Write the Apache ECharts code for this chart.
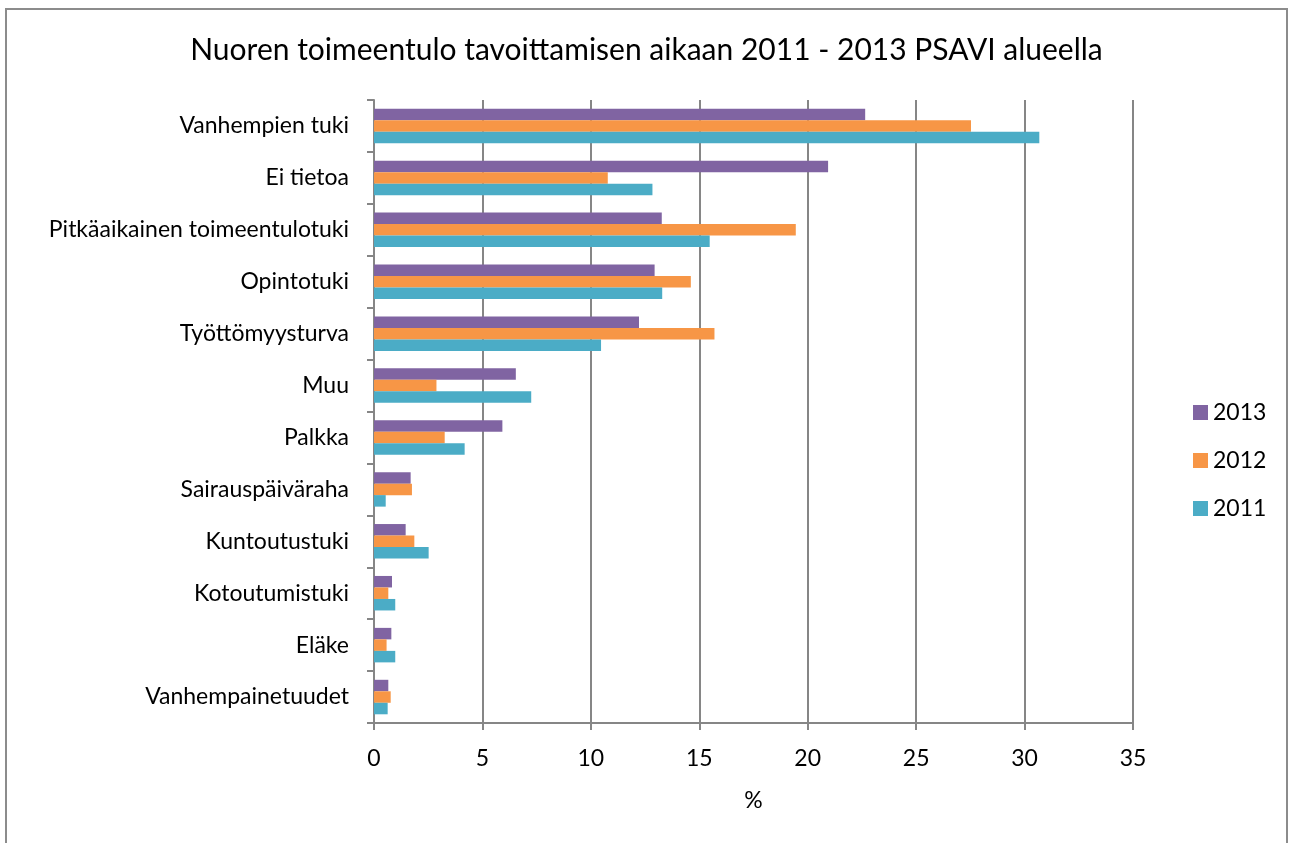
<!DOCTYPE html>
<html>
<head>
<meta charset="utf-8">
<script src="https://cdn.jsdelivr.net/npm/echarts@6/dist/echarts.min.js"></script>
<style>
html,body{margin:0;padding:0;background:#fff;}
#frame{position:absolute;left:5px;top:8px;width:1283px;height:845px;border:2px solid #8c8c8c;box-sizing:border-box;}
#chart{position:absolute;left:0;top:0;width:1293px;height:843px;}
</style>
</head>
<body>
<div id="frame"></div>
<div id="chart"></div>
<script>
const title = "Nuoren toimeentulo tavoittamisen aikaan 2011 - 2013 PSAVI alueella";
const categories = ["Vanhempien tuki","Ei tietoa","Pitkäaikainen toimeentulotuki","Opintotuki","Työttömyysturva","Muu","Palkka","Sairauspäiväraha","Kuntoutustuki","Kotoutumistuki","Eläke","Vanhempainetuudet"];
const seriesNames = ["2013","2012","2011"];
const v2013 = [22.65,20.94,13.27,12.94,12.22,6.54,5.92,1.69,1.46,0.83,0.80,0.66];
const v2012 = [27.53,10.78,19.45,14.61,15.70,2.88,3.26,1.75,1.86,0.66,0.58,0.77];
const v2011 = [30.68,12.84,15.48,13.29,10.47,7.25,4.18,0.54,2.52,0.98,0.98,0.63];
const xTicks = {min:0,max:35,interval:5};
const axisTitle = "%";
const colors = ["#8064A2","#F79646","#4BACC6"];

const font = "Lato, 'Liberation Sans', sans-serif";
const chart = echarts.init(document.getElementById('chart'));
const data = [v2013, v2012, v2011];
chart.setOption({
  animation:false,
  title:{text:title,left:'center',top:30,textStyle:{fontFamily:font,fontWeight:'normal',fontSize:30,color:'#000'}},
  legend:{
    orient:'vertical',left:1188,top:396,itemGap:25,itemWidth:15,itemHeight:15,itemStyle:{borderWidth:0},
    icon:'rect',textStyle:{fontFamily:font,fontSize:23,color:'#000'},
    data:seriesNames
  },
  grid:{left:374,right:160,top:100,bottom:120,containLabel:false},
  xAxis:{
    type:'value',min:xTicks.min,max:xTicks.max,interval:xTicks.interval,
    name:axisTitle,nameLocation:'middle',nameGap:66,
    nameTextStyle:{fontFamily:font,fontSize:23,color:'#000'},
    axisLine:{show:true,lineStyle:{color:'#868686',width:2}},
    axisTick:{show:true,length:7,lineStyle:{color:'#868686',width:2}},
    axisLabel:{fontFamily:font,fontSize:23,color:'#000',margin:24},
    splitLine:{show:true,lineStyle:{color:'#868686',width:2}}
  },
  yAxis:{
    type:'category',data:categories,inverse:true,
    axisLine:{show:true,lineStyle:{color:'#868686',width:2}},
    axisTick:{show:true,length:7,lineStyle:{color:'#868686',width:2}},
    axisLabel:{fontFamily:font,fontSize:23,color:'#000',margin:25}
  },
  series:seriesNames.map((n,i)=>({
    name:n,type:'bar',data:data[i],barWidth:11.5,barGap:'0%',
    itemStyle:{color:colors[i]}
  }))
});
</script>
</body>
</html>
